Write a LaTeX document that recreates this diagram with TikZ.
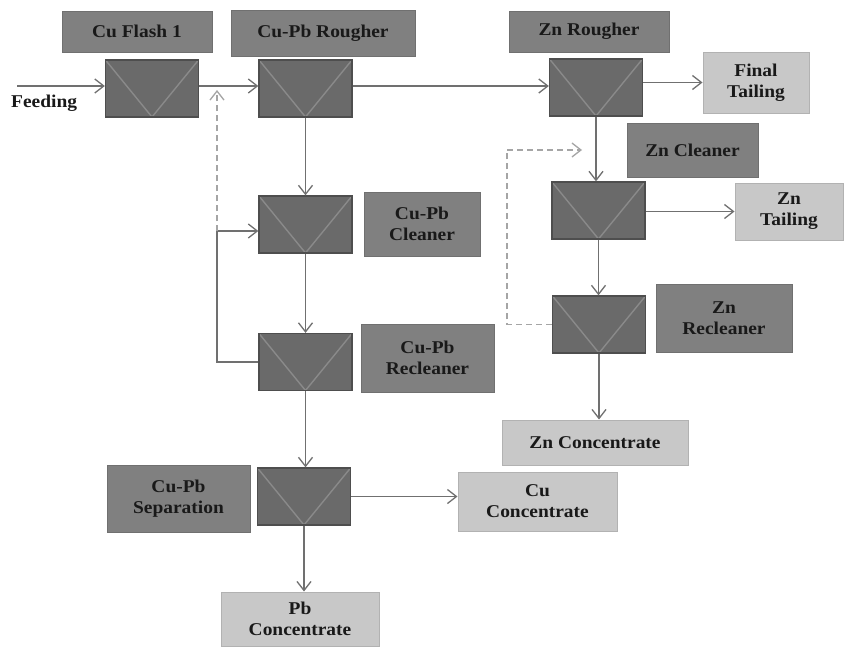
\documentclass[tikz,border=0pt]{standalone}
\usepackage{fontspec}
\setmainfont[FakeStretch=1.08]{Liberation Serif}
\usetikzlibrary{arrows.meta}
\definecolor{labfill}{RGB}{128,128,128}
\definecolor{labdraw}{RGB}{112,112,112}
\definecolor{cellfill}{RGB}{106,106,106}
\definecolor{celldraw}{RGB}{78,78,78}
\definecolor{vcol}{RGB}{138,138,138}
\definecolor{outfill}{RGB}{200,200,200}
\definecolor{outdraw}{RGB}{178,178,178}
\definecolor{linecol}{RGB}{112,112,112}
\definecolor{dashcol}{RGB}{165,165,165}
\definecolor{txt}{RGB}{25,25,25}
\tikzset{
  base/.style={inner sep=0pt, align=center, text=txt, font=\fontsize{18}{21}\selectfont\bfseries},
  lab/.style={base, fill=labfill, draw=labdraw, line width=0.8pt},
  outbox/.style={base, fill=outfill, draw=outdraw, line width=1pt},
  cell/.style={fill=cellfill, draw=celldraw, line width=1.3pt, minimum width=93pt, minimum height=57pt, inner sep=0pt,
    path picture={\draw[vcol, line width=1.4pt] (path picture bounding box.north west) -- (path picture bounding box.south) -- (path picture bounding box.north east);}},
  flow/.style={draw=linecol, line width=1.6pt, -{Straight Barb[length=9pt,width=14pt,line width=1.3pt]}},
  plain/.style={draw=linecol, line width=1.6pt},
  dashflow/.style={draw=dashcol, line width=1.5pt, dash pattern=on 6pt off 4pt, -{Straight Barb[length=9pt,width=14pt,line width=1.3pt]}},
  dashline/.style={draw=dashcol, line width=1.5pt, dash pattern=on 6pt off 4pt}
}
\begin{document}
\begin{tikzpicture}[x=1pt,y=-1pt]
\useasboundingbox[fill=white] (0,0) rectangle (844,648);

% label boxes
\node[lab, minimum width=150pt, minimum height=41pt] (l1) at (137,31.5) {Cu Flash 1};
\node[lab, minimum width=184pt, minimum height=46pt] (l2) at (323,33) {Cu-Pb Rougher};
\node[lab, minimum width=160pt, minimum height=41pt] (l3) at (589,31.5) {Zn Rougher};
\node[lab, minimum width=131pt, minimum height=54pt] (l6) at (692.5,150) {Zn Cleaner};
\node[lab, minimum width=116pt, minimum height=64pt] (l4) at (422,224) {Cu-Pb\\Cleaner};
\node[lab, minimum width=133pt, minimum height=68pt] (l5) at (427.5,358) {Cu-Pb\\Recleaner};
\node[lab, minimum width=136pt, minimum height=68pt] (l7) at (724,318) {Zn\\Recleaner};
\node[lab, minimum width=143pt, minimum height=67pt] (l8) at (178.5,498.5) {Cu-Pb\\Separation};

% output boxes
\node[outbox, minimum width=106pt, minimum height=61pt] (final) at (756,82.5) {Final\\Tailing};
\node[outbox, minimum width=108pt, minimum height=57pt] (zntail) at (789,211.5) {Zn\\Tailing};
\node[outbox, minimum width=186pt, minimum height=45pt] (zncon) at (595,442.5) {Zn Concentrate};
\node[outbox, minimum width=159pt, minimum height=59pt] (cucon) at (537.5,501.5) {Cu\\Concentrate};
\node[outbox, minimum width=158pt, minimum height=54pt] (pbcon) at (300,619) {Pb\\Concentrate};

% cells
\node[cell] (c1) at (152,88.5) {};
\node[cell] (c2) at (305.5,88.5) {};
\node[cell] (c3) at (596,87.5) {};
\node[cell] (c4) at (305.5,224.5) {};
\node[cell] (c5) at (305.5,362) {};
\node[cell] (c6) at (598.5,210.5) {};
\node[cell] (c7) at (599,324.5) {};
\node[cell] (c8) at (304,496.5) {};

% feeding
\coordinate (feed) at (17,86);
\node[base, anchor=west] (feedtxt) at (11,103) {Feeding};
\draw[flow] (feed) -- (feed -| c1.west);

% main flows
\draw[flow] (c1.east |- feed) -- (c2.west |- feed);
\draw[flow] (c2.east |- feed) -- (c3.west |- feed);
\draw[flow] (c3.east |- final) -- (final.west);
\draw[flow] (c3.south) -- (c6.north -| c3.south);
\draw[flow] (c6.east |- zntail) -- (zntail.west);
\draw[flow] (c6.south) -- (c7.north -| c6.south);
\draw[flow] (c7.south) -- (zncon.north -| c7.south);
\draw[flow] (c2.south) -- (c4.north);
\draw[flow] (c4.south) -- (c5.north);
\draw[flow] (c5.south) -- (c8.north -| c5.south);
\draw[flow] (c8.east) -- (cucon.west |- c8.east);
\draw[flow] (c8.south) -- (pbcon.north -| c8.south);

% Cu-Pb recleaner loop
\coordinate (loopc) at (217,231);
\draw[plain] (c5.west) -| (loopc);
\draw[flow] (loopc) -- (loopc -| c4.west);
\coordinate (cdash) at (217,90);
\draw[dashflow] (loopc) -- (cdash);

% Zn recleaner dashed recycle
\coordinate (zcorner) at (507,150);
\coordinate (zdash) at (582,150);
\draw[dashline] (c7.west) -| (zcorner);
\draw[dashflow] (zcorner) -- (zdash);
\end{tikzpicture}
\end{document}
